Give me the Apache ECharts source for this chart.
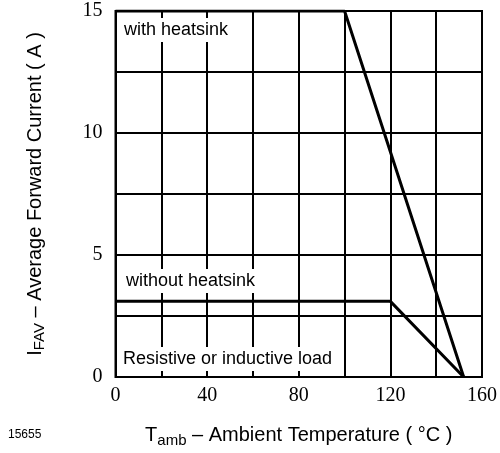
<!DOCTYPE html>
<html>
<head>
<meta charset="utf-8">
<script src="https://cdn.jsdelivr.net/npm/echarts@6/dist/echarts.min.js"></script>
<style>
  html, body { margin: 0; padding: 0; background: #fff; }
  #chart { width: 500px; height: 453px; }
</style>
</head>
<body>
<div id="chart"></div>
<script>
// derating curves: temperature (°C) vs current (A)
const withHeatsinkT = [0, 100, 152]
const withHeatsinkI = [15, 15, 0]
const withoutHeatsinkT = [0, 120, 152]
const withoutHeatsinkI = [3.1, 3.1, 0]
const xLabels = [0, 40, 80, 120, 160]
const yLabels = [0, 5, 10, 15]

const chart = echarts.init(document.getElementById('chart'))

const pairs = (xs, ys) => xs.map((x, i) => [x, ys[i]])
const sans = 'Liberation Sans, Arial, sans-serif'
const serif = 'Liberation Serif, Times New Roman, serif'

const nameRich = {
  m: { fontFamily: sans, fontSize: 20, color: '#000' },
  s: { fontFamily: sans, fontSize: 15, color: '#000', padding: [10, 0, 0, 0] }
}

// annotation text with a white box behind it, like the original sheet
const note = (text, left, top) => ({
  type: 'text',
  left: left,
  top: top,
  z: 11,
  style: {
    text: text,
    font: '18px ' + sans,
    fill: '#000',
    backgroundColor: '#fff',
    padding: [3, 4, 3, 4]
  }
})

const option = {
  animation: false,
  grid: { left: 115.5, right: 15, top: 11, bottom: 73, show: true, borderColor: '#000', borderWidth: 2 },
  xAxis: {
    type: 'value',
    min: 0,
    max: 160,
    interval: 20,
    axisLine: { show: false },
    axisTick: { show: false },
    splitLine: { show: true, lineStyle: { color: '#000', width: 2 } },
    axisLabel: {
      margin: 9,
      color: '#000',
      fontFamily: serif,
      fontSize: 20,
      formatter: v => (xLabels.indexOf(v) >= 0 ? String(v) : '')
    },
    name: '{m|T}{s|amb}{m| – Ambient Temperature ( °C )}',
    nameLocation: 'middle',
    nameGap: 46,
    nameTextStyle: { rich: nameRich }
  },
  yAxis: {
    type: 'value',
    min: 0,
    max: 15,
    interval: 2.5,
    axisLine: { show: false },
    axisTick: { show: false },
    splitLine: { show: true, lineStyle: { color: '#000', width: 2 } },
    axisLabel: {
      margin: 13,
      color: '#000',
      fontFamily: serif,
      fontSize: 20,
      formatter: v => (yLabels.indexOf(v) >= 0 ? String(v) : '')
    },
    name: '{m|I}{s|FAV}{m| – Average Forward Current ( A )}',
    nameLocation: 'middle',
    nameGap: 68,
    nameTextStyle: { rich: nameRich }
  },
  series: [
    {
      name: 'with heatsink',
      type: 'line',
      data: pairs(withHeatsinkT, withHeatsinkI),
      symbol: 'none',
      lineStyle: { color: '#000', width: 3 },
      z: 5
    },
    {
      name: 'without heatsink',
      type: 'line',
      data: pairs(withoutHeatsinkT, withoutHeatsinkI),
      symbol: 'none',
      lineStyle: { color: '#000', width: 3 },
      z: 5
    }
  ],
  graphic: [
    note('with heatsink', 120, 18),
    note('without heatsink', 122, 269),
    note('Resistive or inductive load', 119, 347),
    { type: 'text', left: 8, top: 429, style: { text: '15655', font: '12px ' + sans, fill: '#000' } }
  ]
}

chart.setOption(option)
</script>
</body>
</html>
